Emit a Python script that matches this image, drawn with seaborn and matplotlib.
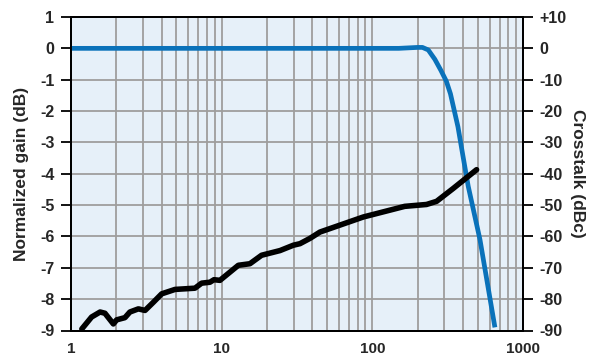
import matplotlib
matplotlib.use("Agg")
import matplotlib.pyplot as plt
import numpy as np
import pandas as pd
import seaborn as sns
from matplotlib.ticker import FixedLocator, LogLocator, NullFormatter

# ---- data ----
gain_freq = [1, 50, 150, 200, 215, 235, 260, 285, 310, 330, 370, 400, 433, 518, 651]
gain_db = [0, 0, 0, 0.03, 0.03, -0.05, -0.35, -0.7, -1.05, -1.45, -2.5, -3.45, -4.4, -6.1, -8.9]

xt_freq = [1.18, 1.37, 1.56, 1.68, 1.91, 2.01, 2.28, 2.46, 2.80, 3.10, 3.52, 4.0, 4.9, 6.65,
           7.36, 8.36, 8.89, 9.74, 12.9, 15.4, 18.4, 24.4, 29.9, 33.1, 38.6, 44.9, 87, 164,
           229, 267, 344, 492]
xt_dbc = [-89.5, -85.7, -84.1, -84.5, -87.9, -86.6, -85.9, -84.1, -83.1, -83.6, -81.0, -78.3,
          -76.9, -76.5, -74.9, -74.6, -73.8, -74.0, -69.2, -68.7, -66.0, -64.5, -62.8, -62.3,
          -60.6, -58.6, -53.8, -50.4, -49.8, -48.8, -44.7, -38.7]

x_ticks = [1, 10, 100, 1000]
x_tick_labels = ["1", "10", "100", "1000"]
left_ticks = [-9, -8, -7, -6, -5, -4, -3, -2, -1, 0, 1]
left_labels = ["-9", "-8", "-7", "-6", "-5", "-4", "-3", "-2", "-1", "0", "1"]
right_ticks = [-90, -80, -70, -60, -50, -40, -30, -20, -10, 0, 10]
right_labels = ["-90", "-80", "-70", "-60", "-50", "-40", "-30", "-20", "-10", "0", "+10"]

left_title = "Normalized gain (dB)"
right_title = "Crosstalk (dBc)"

# ---- style ----
sns.set_style("white")
plt.rcParams['font.family'] = ['Liberation Sans', 'DejaVu Sans']
plt.rcParams['font.weight'] = 'bold'

BLUE = "#0A72BA"
GRID = "#9E9E9E"
BG = "#E6F0F9"

fig = plt.figure(figsize=(5.97, 3.54), dpi=100)
ax = fig.add_axes([71 / 597, 23.5 / 354, 452 / 597, 313.5 / 354])
ax.set_facecolor(BG)

gain_df = pd.DataFrame({"f": gain_freq, "g": gain_db})
xt_df = pd.DataFrame({"f": xt_freq, "x": xt_dbc})

sns.lineplot(data=gain_df, x="f", y="g", ax=ax, color=BLUE, linewidth=3.4,
             solid_capstyle="butt", zorder=3)
ax.set_xscale("log")
ax.set_xlim(1, 1000)
ax.set_ylim(-9, 1)

ax2 = ax.twinx()
sns.lineplot(data=xt_df, x="f", y="x", ax=ax2, color="black", linewidth=4.0,
             solid_capstyle="round", zorder=3)
ax2.set_ylim(-90, 10)
ax2.set_xscale("log")
ax2.set_xlim(1, 1000)

# grid
ax.xaxis.set_major_locator(FixedLocator(x_ticks))
ax.xaxis.set_minor_locator(LogLocator(base=10, subs=np.arange(2, 10)))
ax.xaxis.set_minor_formatter(NullFormatter())
ax.set_xticklabels(x_tick_labels)
ax.grid(True, which="both", axis="x", color=GRID, linewidth=1.3)
ax.set_yticks(left_ticks)
ax.set_yticklabels(left_labels)
ax.grid(True, which="major", axis="y", color=GRID, linewidth=1.3)
ax.set_axisbelow(True)

ax2.set_yticks(right_ticks)
ax2.set_yticklabels(right_labels)
ax2.grid(False)

ax.tick_params(axis="x", which="major", direction="out", length=7, width=1.3,
               color="black", pad=1.5, labelsize=11)
ax.tick_params(axis="x", which="minor", length=0)
ax.tick_params(axis="y", direction="out", length=7, width=1.3, color="black",
               pad=5, labelsize=11.5, left=True)
ax2.tick_params(axis="y", direction="out", length=7, width=1.3, color="black",
                pad=5, labelsize=11.5, right=True)
for t in ax.xaxis.get_major_ticks():
    if t.get_loc() in (1, 1000):
        t.tick1line.set_visible(False)

for a in (ax, ax2):
    for s in a.spines.values():
        s.set_color("black")
        s.set_linewidth(1.4)
    a.set_xlabel("")

ax.set_ylabel(left_title, fontsize=12.5, fontweight="bold", labelpad=8)
ax2.set_ylabel(right_title, fontsize=12.5, fontweight="bold", rotation=270, labelpad=13)

fig.savefig("out.png", dpi=100)
